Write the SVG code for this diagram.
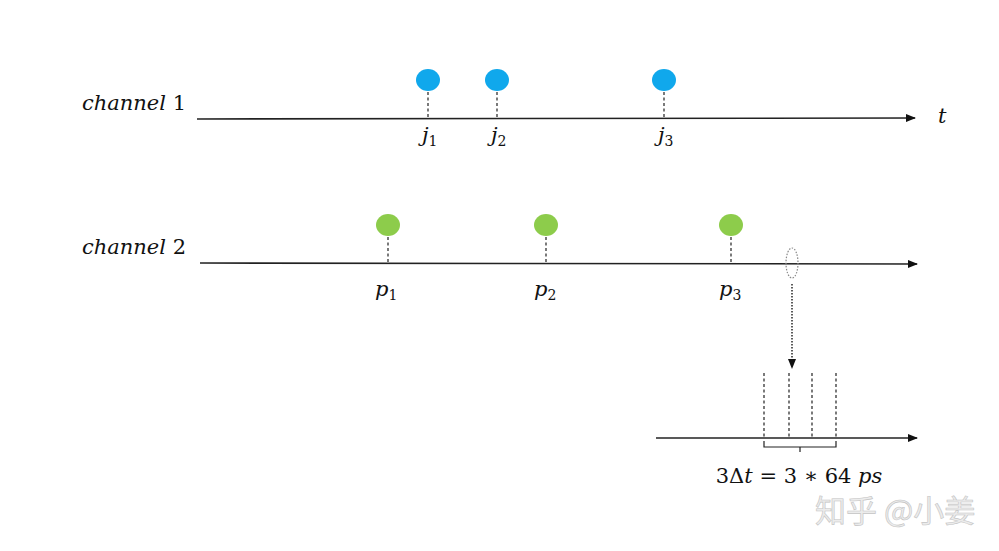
<svg xmlns="http://www.w3.org/2000/svg" width="999" height="551" viewBox="0 0 999 551">
<defs>
<style>
.t{font-family:"DejaVu Serif","Liberation Serif",serif;font-size:21px;fill:#111}
.i{font-style:italic}
.sub{font-size:14px}
.axis{stroke:#222;stroke-width:1.6;fill:none}
.dash{stroke:#222;stroke-width:1.2;stroke-dasharray:3 2.5;fill:none}
.blue{fill:#10a8ec}
.green{fill:#8dcc4b}
.wm{font-family:"Noto Sans CJK SC","Noto Sans",sans-serif;font-size:31px;fill:#ececec;stroke:#c4c4c4;stroke-width:0.6}
</style>
<marker id="ah" markerWidth="10" markerHeight="8" refX="9" refY="4" orient="auto" markerUnits="userSpaceOnUse">
<path d="M0,0 L10,4 L0,8 z" fill="#111"/>
</marker>
</defs>
<rect width="999" height="551" fill="#fff"/>
<g id="connectors">
<line class="axis" x1="197" y1="119" x2="915" y2="118" marker-end="url(#ah)"/>
<line class="axis" x1="200" y1="263" x2="917" y2="264" marker-end="url(#ah)"/>
<line class="axis" x1="656" y1="438" x2="917" y2="438" marker-end="url(#ah)"/>
<line x1="792" y1="284" x2="792" y2="368" stroke="#333" stroke-width="1.6" stroke-dasharray="1.5 1.5" marker-end="url(#ah)"/>
<line class="dash" x1="428" y1="92" x2="428" y2="119"/>
<line class="dash" x1="497" y1="92" x2="497" y2="119"/>
<line class="dash" x1="664" y1="92" x2="664" y2="119"/>
<line class="dash" x1="388" y1="237" x2="388" y2="263"/>
<line class="dash" x1="546" y1="237" x2="546" y2="263"/>
<line class="dash" x1="731" y1="237" x2="731" y2="263"/>
<line class="dash" x1="764" y1="373" x2="764" y2="438"/>
<line class="dash" x1="789" y1="373" x2="789" y2="438"/>
<line class="dash" x1="812" y1="373" x2="812" y2="438"/>
<line class="dash" x1="836" y1="373" x2="836" y2="438"/>
<path d="M764,441 V447 H836 V441 M800,447 V452" stroke="#222" stroke-width="1.2" fill="none"/>
</g>
<g id="channel1-label"><text class="t" x="82" y="110"><tspan class="i">channel</tspan> 1</text></g>
<g id="channel2-label"><text class="t" x="82" y="254"><tspan class="i">channel</tspan> 2</text></g>
<g id="t-label"><text class="t i" x="938" y="123">t</text></g>
<g id="j1"><ellipse class="blue" cx="428" cy="80" rx="12" ry="11"/><text class="t i" x="422" y="142">j<tspan class="sub" font-style="normal" dy="4">1</tspan></text></g>
<g id="j2"><ellipse class="blue" cx="497" cy="80" rx="12" ry="11"/><text class="t i" x="491" y="142">j<tspan class="sub" font-style="normal" dy="4">2</tspan></text></g>
<g id="j3"><ellipse class="blue" cx="664" cy="80" rx="12" ry="11"/><text class="t i" x="658" y="142">j<tspan class="sub" font-style="normal" dy="4">3</tspan></text></g>
<g id="p1"><ellipse class="green" cx="388" cy="225" rx="12" ry="11"/><text class="t i" x="375" y="296">p<tspan class="sub" font-style="normal" dy="4">1</tspan></text></g>
<g id="p2"><ellipse class="green" cx="546" cy="225" rx="12" ry="11"/><text class="t i" x="534" y="296">p<tspan class="sub" font-style="normal" dy="4">2</tspan></text></g>
<g id="p3"><ellipse class="green" cx="731" cy="225" rx="12" ry="11"/><text class="t i" x="719" y="296">p<tspan class="sub" font-style="normal" dy="4">3</tspan></text></g>
<g id="zoom-mark"><ellipse cx="792" cy="263" rx="6" ry="15" fill="none" stroke="#888" stroke-width="1.2" stroke-dasharray="1.5 1.5"/></g>
<g id="formula"><text class="t" x="799" y="483" text-anchor="middle">3Δ<tspan class="i">t</tspan> = 3 ∗ 64 <tspan class="i">ps</tspan></text></g>
<g id="watermark"><text class="wm" x="815" y="522">知乎 @小姜</text></g>
</svg>
